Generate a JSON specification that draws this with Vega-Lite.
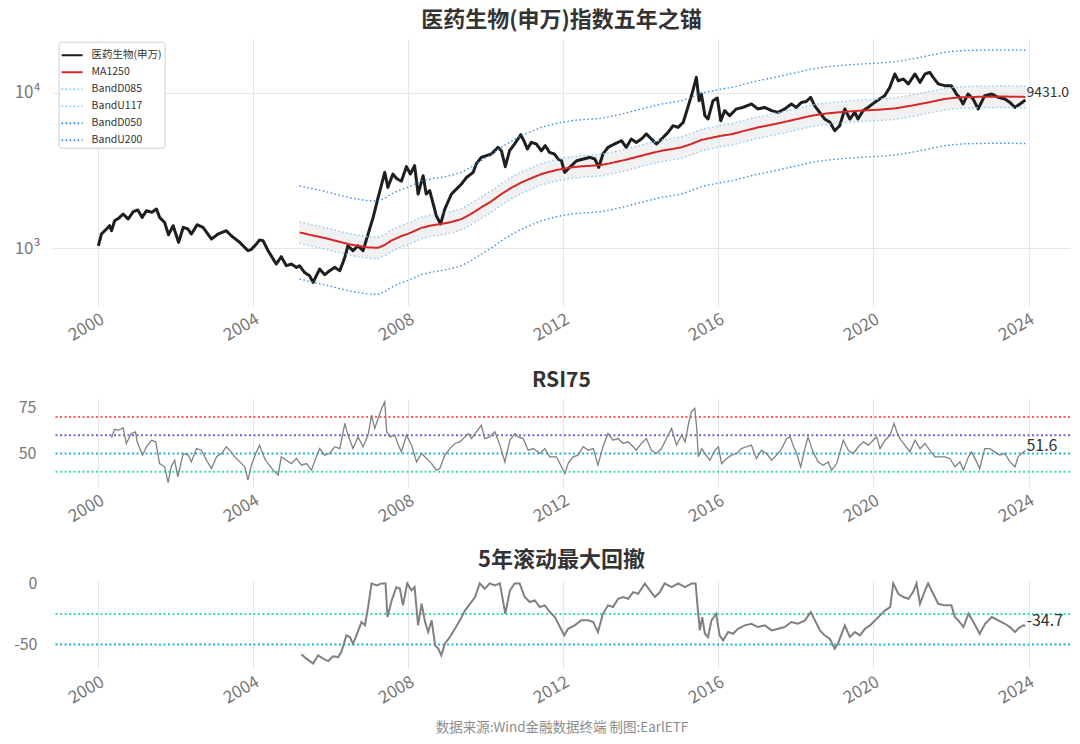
{
  "$schema": "https://vega.github.io/schema/vega-lite/v6.json",
  "autosize": {"type": "pad"},
  "padding": {"left": 13, "top": 9, "right": 11.4, "bottom": 5},
  "background": "white",
  "bounds": "flush",
  "spacing": 92.5,
  "config": {
    "font": "Noto Sans CJK SC",
    "view": {"stroke": null},
    "axis": {"domain": false, "ticks": false, "gridColor": "#e6e6e6", "gridWidth": 1, "labelColor": "#777777", "labelFontSize": 16, "labelPadding": 14, "title": null},
    "axisX": {"labelFontSize": 17, "labelPadding": 5, "labelAngle": -30},
    "title": {"fontSize": 22, "fontWeight": "bold", "color": "#333333", "anchor": "middle", "baseline": "bottom"}
  },
  "datasets": {
    "index": [
      {"year": 2000.00, "value": 1034}, {"year": 2000.08, "value": 1231}, {"year": 2000.21, "value": 1326}, {"year": 2000.29, "value": 1393}, {"year": 2000.34, "value": 1293},
      {"year": 2000.42, "value": 1500}, {"year": 2000.53, "value": 1560}, {"year": 2000.64, "value": 1657}, {"year": 2000.77, "value": 1538}, {"year": 2000.90, "value": 1715},
      {"year": 2001.02, "value": 1758}, {"year": 2001.13, "value": 1575}, {"year": 2001.24, "value": 1740}, {"year": 2001.38, "value": 1700}, {"year": 2001.50, "value": 1785},
      {"year": 2001.58, "value": 1575}, {"year": 2001.71, "value": 1462}, {"year": 2001.81, "value": 1218}, {"year": 2001.93, "value": 1393}, {"year": 2002.07, "value": 1087},
      {"year": 2002.19, "value": 1359}, {"year": 2002.31, "value": 1326}, {"year": 2002.40, "value": 1231}, {"year": 2002.55, "value": 1413}, {"year": 2002.70, "value": 1359},
      {"year": 2002.92, "value": 1143}, {"year": 2003.09, "value": 1231}, {"year": 2003.30, "value": 1293}, {"year": 2003.43, "value": 1200}, {"year": 2003.65, "value": 1087},
      {"year": 2003.86, "value": 961}, {"year": 2003.95, "value": 980}, {"year": 2004.06, "value": 1050}, {"year": 2004.16, "value": 1126}, {"year": 2004.25, "value": 1115},
      {"year": 2004.38, "value": 961}, {"year": 2004.59, "value": 788}, {"year": 2004.72, "value": 879}, {"year": 2004.85, "value": 769}, {"year": 2004.98, "value": 788},
      {"year": 2005.11, "value": 750}, {"year": 2005.19, "value": 769}, {"year": 2005.32, "value": 696}, {"year": 2005.45, "value": 662}, {"year": 2005.54, "value": 600},
      {"year": 2005.71, "value": 732}, {"year": 2005.84, "value": 673}, {"year": 2005.97, "value": 714}, {"year": 2006.10, "value": 750}, {"year": 2006.23, "value": 714},
      {"year": 2006.36, "value": 870}, {"year": 2006.44, "value": 1035}, {"year": 2006.57, "value": 961}, {"year": 2006.70, "value": 1035}, {"year": 2006.83, "value": 961},
      {"year": 2006.96, "value": 1231}, {"year": 2007.09, "value": 1575}, {"year": 2007.22, "value": 2121}, {"year": 2007.39, "value": 3074}, {"year": 2007.47, "value": 2461},
      {"year": 2007.60, "value": 3000}, {"year": 2007.70, "value": 2800}, {"year": 2007.82, "value": 2700}, {"year": 2007.95, "value": 3350}, {"year": 2008.05, "value": 3000},
      {"year": 2008.16, "value": 3397}, {"year": 2008.25, "value": 2229}, {"year": 2008.38, "value": 2926}, {"year": 2008.46, "value": 2229}, {"year": 2008.55, "value": 2343},
      {"year": 2008.64, "value": 1923}, {"year": 2008.72, "value": 1615}, {"year": 2008.83, "value": 1428}, {"year": 2008.94, "value": 1785}, {"year": 2009.11, "value": 2229},
      {"year": 2009.24, "value": 2400}, {"year": 2009.37, "value": 2588}, {"year": 2009.50, "value": 2854}, {"year": 2009.67, "value": 3074}, {"year": 2009.75, "value": 3484},
      {"year": 2009.88, "value": 3842}, {"year": 2010.01, "value": 3940}, {"year": 2010.14, "value": 4036}, {"year": 2010.31, "value": 4456}, {"year": 2010.40, "value": 4240},
      {"year": 2010.50, "value": 3346}, {"year": 2010.61, "value": 4240}, {"year": 2010.74, "value": 4690}, {"year": 2010.90, "value": 5383}, {"year": 2010.98, "value": 4920},
      {"year": 2011.07, "value": 4352}, {"year": 2011.17, "value": 4800}, {"year": 2011.30, "value": 4690}, {"year": 2011.43, "value": 4240}, {"year": 2011.53, "value": 4572},
      {"year": 2011.64, "value": 4140}, {"year": 2011.77, "value": 4036}, {"year": 2011.86, "value": 3750}, {"year": 2011.95, "value": 3656}, {"year": 2012.03, "value": 3074},
      {"year": 2012.16, "value": 3311}, {"year": 2012.34, "value": 3656}, {"year": 2012.51, "value": 3750}, {"year": 2012.68, "value": 3842}, {"year": 2012.81, "value": 3750},
      {"year": 2012.91, "value": 3311}, {"year": 2013.02, "value": 4036}, {"year": 2013.15, "value": 4456}, {"year": 2013.32, "value": 4690}, {"year": 2013.50, "value": 4920},
      {"year": 2013.62, "value": 4456}, {"year": 2013.75, "value": 5043}, {"year": 2013.88, "value": 4800}, {"year": 2014.01, "value": 5043}, {"year": 2014.14, "value": 5440},
      {"year": 2014.27, "value": 5043}, {"year": 2014.40, "value": 4690}, {"year": 2014.53, "value": 5043}, {"year": 2014.70, "value": 5570}, {"year": 2014.83, "value": 6152},
      {"year": 2014.96, "value": 6000}, {"year": 2015.09, "value": 6460}, {"year": 2015.21, "value": 8070}, {"year": 2015.34, "value": 10350}, {"year": 2015.43, "value": 12610},
      {"year": 2015.50, "value": 8913}, {"year": 2015.56, "value": 9850}, {"year": 2015.65, "value": 7137}, {"year": 2015.73, "value": 6792}, {"year": 2015.86, "value": 8913},
      {"year": 2015.97, "value": 9284}, {"year": 2016.06, "value": 6620}, {"year": 2016.16, "value": 7690}, {"year": 2016.29, "value": 7137}, {"year": 2016.46, "value": 7886},
      {"year": 2016.63, "value": 8070}, {"year": 2016.85, "value": 8490}, {"year": 2017.02, "value": 7886}, {"year": 2017.19, "value": 8070}, {"year": 2017.37, "value": 7690},
      {"year": 2017.54, "value": 7500}, {"year": 2017.71, "value": 7886}, {"year": 2017.88, "value": 8490}, {"year": 2018.01, "value": 8070}, {"year": 2018.14, "value": 8690},
      {"year": 2018.26, "value": 8800}, {"year": 2018.38, "value": 9367}, {"year": 2018.48, "value": 8280}, {"year": 2018.61, "value": 7500}, {"year": 2018.74, "value": 6792},
      {"year": 2018.87, "value": 6500}, {"year": 2019.00, "value": 5713}, {"year": 2019.13, "value": 6152}, {"year": 2019.26, "value": 7886}, {"year": 2019.39, "value": 6792},
      {"year": 2019.52, "value": 7500}, {"year": 2019.60, "value": 6792}, {"year": 2019.73, "value": 7690}, {"year": 2019.86, "value": 8070}, {"year": 2020.03, "value": 8690},
      {"year": 2020.16, "value": 9148}, {"year": 2020.29, "value": 9607}, {"year": 2020.42, "value": 10860}, {"year": 2020.55, "value": 13260}, {"year": 2020.64, "value": 11990},
      {"year": 2020.77, "value": 12300}, {"year": 2020.90, "value": 11430}, {"year": 2021.07, "value": 13260}, {"year": 2021.20, "value": 11700}, {"year": 2021.33, "value": 13260},
      {"year": 2021.45, "value": 13590}, {"year": 2021.54, "value": 12610}, {"year": 2021.67, "value": 11430}, {"year": 2021.84, "value": 11140}, {"year": 2022.01, "value": 11140},
      {"year": 2022.14, "value": 9850}, {"year": 2022.22, "value": 9367}, {"year": 2022.31, "value": 8490}, {"year": 2022.44, "value": 9850}, {"year": 2022.57, "value": 9148},
      {"year": 2022.70, "value": 7886}, {"year": 2022.87, "value": 9607}, {"year": 2023.05, "value": 9850}, {"year": 2023.22, "value": 9367}, {"year": 2023.39, "value": 9148},
      {"year": 2023.52, "value": 8690}, {"year": 2023.65, "value": 8070}, {"year": 2023.78, "value": 8490}, {"year": 2023.92, "value": 9013}
    ],
    "ma": [
      {"year": 2005.19, "MA1250": 1261, "BandD085": 1072, "BandU117": 1475, "BandD050": 631, "BandU200": 2522},
      {"year": 2005.50, "MA1250": 1210, "BandD085": 1029, "BandU117": 1416, "BandD050": 605, "BandU200": 2420},
      {"year": 2005.84, "MA1250": 1160, "BandD085": 986, "BandU117": 1357, "BandD050": 580, "BandU200": 2320},
      {"year": 2006.20, "MA1250": 1100, "BandD085": 935, "BandU117": 1287, "BandD050": 550, "BandU200": 2200},
      {"year": 2006.53, "MA1250": 1050, "BandD085": 893, "BandU117": 1229, "BandD050": 525, "BandU200": 2100},
      {"year": 2006.96, "MA1250": 1009, "BandD085": 858, "BandU117": 1181, "BandD050": 505, "BandU200": 2018},
      {"year": 2007.22, "MA1250": 1003, "BandD085": 853, "BandU117": 1174, "BandD050": 502, "BandU200": 2006},
      {"year": 2007.40, "MA1250": 1050, "BandD085": 893, "BandU117": 1229, "BandD050": 525, "BandU200": 2100},
      {"year": 2007.55, "MA1250": 1114, "BandD085": 947, "BandU117": 1303, "BandD050": 557, "BandU200": 2228},
      {"year": 2007.82, "MA1250": 1195, "BandD085": 1016, "BandU117": 1398, "BandD050": 598, "BandU200": 2390},
      {"year": 2007.98, "MA1250": 1231, "BandD085": 1046, "BandU117": 1440, "BandD050": 616, "BandU200": 2462},
      {"year": 2008.34, "MA1250": 1350, "BandD085": 1148, "BandU117": 1580, "BandD050": 675, "BandU200": 2700},
      {"year": 2008.60, "MA1250": 1400, "BandD085": 1190, "BandU117": 1638, "BandD050": 700, "BandU200": 2800},
      {"year": 2008.85, "MA1250": 1429, "BandD085": 1215, "BandU117": 1672, "BandD050": 715, "BandU200": 2858},
      {"year": 2009.10, "MA1250": 1470, "BandD085": 1250, "BandU117": 1720, "BandD050": 735, "BandU200": 2940},
      {"year": 2009.37, "MA1250": 1538, "BandD085": 1307, "BandU117": 1799, "BandD050": 769, "BandU200": 3076},
      {"year": 2009.60, "MA1250": 1650, "BandD085": 1403, "BandU117": 1931, "BandD050": 825, "BandU200": 3300},
      {"year": 2009.88, "MA1250": 1828, "BandD085": 1554, "BandU117": 2139, "BandD050": 914, "BandU200": 3656},
      {"year": 2010.15, "MA1250": 2010, "BandD085": 1709, "BandU117": 2352, "BandD050": 1005, "BandU200": 4020},
      {"year": 2010.40, "MA1250": 2229, "BandD085": 1895, "BandU117": 2608, "BandD050": 1115, "BandU200": 4458},
      {"year": 2010.65, "MA1250": 2440, "BandD085": 2074, "BandU117": 2855, "BandD050": 1220, "BandU200": 4880},
      {"year": 2010.92, "MA1250": 2649, "BandD085": 2252, "BandU117": 3099, "BandD050": 1325, "BandU200": 5298},
      {"year": 2011.20, "MA1250": 2840, "BandD085": 2414, "BandU117": 3323, "BandD050": 1420, "BandU200": 5680},
      {"year": 2011.43, "MA1250": 3000, "BandD085": 2550, "BandU117": 3510, "BandD050": 1500, "BandU200": 6000},
      {"year": 2011.70, "MA1250": 3130, "BandD085": 2661, "BandU117": 3662, "BandD050": 1565, "BandU200": 6260},
      {"year": 2011.95, "MA1250": 3234, "BandD085": 2749, "BandU117": 3784, "BandD050": 1617, "BandU200": 6468},
      {"year": 2012.20, "MA1250": 3310, "BandD085": 2814, "BandU117": 3873, "BandD050": 1655, "BandU200": 6620},
      {"year": 2012.46, "MA1250": 3362, "BandD085": 2858, "BandU117": 3934, "BandD050": 1681, "BandU200": 6724},
      {"year": 2012.70, "MA1250": 3390, "BandD085": 2882, "BandU117": 3966, "BandD050": 1695, "BandU200": 6780},
      {"year": 2012.97, "MA1250": 3430, "BandD085": 2916, "BandU117": 4013, "BandD050": 1715, "BandU200": 6860},
      {"year": 2013.25, "MA1250": 3540, "BandD085": 3009, "BandU117": 4142, "BandD050": 1770, "BandU200": 7080},
      {"year": 2013.50, "MA1250": 3656, "BandD085": 3108, "BandU117": 4278, "BandD050": 1828, "BandU200": 7312},
      {"year": 2013.75, "MA1250": 3790, "BandD085": 3222, "BandU117": 4434, "BandD050": 1895, "BandU200": 7580},
      {"year": 2014.01, "MA1250": 3940, "BandD085": 3349, "BandU117": 4610, "BandD050": 1970, "BandU200": 7880},
      {"year": 2014.27, "MA1250": 4090, "BandD085": 3477, "BandU117": 4785, "BandD050": 2045, "BandU200": 8180},
      {"year": 2014.53, "MA1250": 4240, "BandD085": 3604, "BandU117": 4961, "BandD050": 2120, "BandU200": 8480},
      {"year": 2014.80, "MA1250": 4350, "BandD085": 3698, "BandU117": 5090, "BandD050": 2175, "BandU200": 8700},
      {"year": 2015.04, "MA1250": 4456, "BandD085": 3788, "BandU117": 5214, "BandD050": 2228, "BandU200": 8912},
      {"year": 2015.30, "MA1250": 4690, "BandD085": 3987, "BandU117": 5487, "BandD050": 2345, "BandU200": 9380},
      {"year": 2015.56, "MA1250": 4980, "BandD085": 4233, "BandU117": 5827, "BandD050": 2490, "BandU200": 9960},
      {"year": 2015.82, "MA1250": 5140, "BandD085": 4369, "BandU117": 6014, "BandD050": 2570, "BandU200": 10280},
      {"year": 2016.08, "MA1250": 5302, "BandD085": 4507, "BandU117": 6203, "BandD050": 2651, "BandU200": 10604},
      {"year": 2016.34, "MA1250": 5420, "BandD085": 4607, "BandU117": 6341, "BandD050": 2710, "BandU200": 10840},
      {"year": 2016.68, "MA1250": 5713, "BandD085": 4856, "BandU117": 6684, "BandD050": 2857, "BandU200": 11426},
      {"year": 2017.00, "MA1250": 5980, "BandD085": 5083, "BandU117": 6997, "BandD050": 2990, "BandU200": 11960},
      {"year": 2017.54, "MA1250": 6368, "BandD085": 5413, "BandU117": 7451, "BandD050": 3184, "BandU200": 12736},
      {"year": 2018.00, "MA1250": 6760, "BandD085": 5746, "BandU117": 7909, "BandD050": 3380, "BandU200": 13520},
      {"year": 2018.40, "MA1250": 7137, "BandD085": 6066, "BandU117": 8350, "BandD050": 3569, "BandU200": 14274},
      {"year": 2018.80, "MA1250": 7380, "BandD085": 6273, "BandU117": 8635, "BandD050": 3690, "BandU200": 14760},
      {"year": 2019.26, "MA1250": 7567, "BandD085": 6432, "BandU117": 8853, "BandD050": 3784, "BandU200": 15134},
      {"year": 2019.70, "MA1250": 7700, "BandD085": 6545, "BandU117": 9009, "BandD050": 3850, "BandU200": 15400},
      {"year": 2020.12, "MA1250": 7797, "BandD085": 6627, "BandU117": 9122, "BandD050": 3899, "BandU200": 15594},
      {"year": 2020.55, "MA1250": 7950, "BandD085": 6758, "BandU117": 9302, "BandD050": 3975, "BandU200": 15900},
      {"year": 2020.98, "MA1250": 8280, "BandD085": 7038, "BandU117": 9688, "BandD050": 4140, "BandU200": 16560},
      {"year": 2021.41, "MA1250": 8690, "BandD085": 7387, "BandU117": 10167, "BandD050": 4345, "BandU200": 17380},
      {"year": 2021.84, "MA1250": 9148, "BandD085": 7776, "BandU117": 10703, "BandD050": 4574, "BandU200": 18296},
      {"year": 2022.10, "MA1250": 9300, "BandD085": 7905, "BandU117": 10881, "BandD050": 4650, "BandU200": 18600},
      {"year": 2022.36, "MA1250": 9400, "BandD085": 7990, "BandU117": 10998, "BandD050": 4700, "BandU200": 18800},
      {"year": 2022.87, "MA1250": 9460, "BandD085": 8041, "BandU117": 11068, "BandD050": 4730, "BandU200": 18920},
      {"year": 2023.39, "MA1250": 9480, "BandD085": 8058, "BandU117": 11092, "BandD050": 4740, "BandU200": 18960},
      {"year": 2023.92, "MA1250": 9431, "BandD085": 8016, "BandU117": 11034, "BandD050": 4716, "BandU200": 18862}
    ],
    "rsi": [
      {"year": 2000.34, "rsi": 58.6}, {"year": 2000.42, "rsi": 63.3}, {"year": 2000.53, "rsi": 62.8}, {"year": 2000.64, "rsi": 64.1}, {"year": 2000.72, "rsi": 55.5},
      {"year": 2000.85, "rsi": 61.0}, {"year": 2000.96, "rsi": 61.9}, {"year": 2001.00, "rsi": 56.4}, {"year": 2001.14, "rsi": 49.1}, {"year": 2001.24, "rsi": 53.7},
      {"year": 2001.37, "rsi": 57.3}, {"year": 2001.48, "rsi": 56.4}, {"year": 2001.58, "rsi": 44.5}, {"year": 2001.71, "rsi": 42.7}, {"year": 2001.80, "rsi": 34.1},
      {"year": 2001.88, "rsi": 42.7}, {"year": 2001.97, "rsi": 46.3}, {"year": 2002.05, "rsi": 37.2}, {"year": 2002.19, "rsi": 50.0}, {"year": 2002.32, "rsi": 49.1},
      {"year": 2002.40, "rsi": 45.4}, {"year": 2002.53, "rsi": 52.7}, {"year": 2002.66, "rsi": 51.8}, {"year": 2002.79, "rsi": 46.3}, {"year": 2002.92, "rsi": 41.8},
      {"year": 2003.05, "rsi": 48.2}, {"year": 2003.18, "rsi": 50.0}, {"year": 2003.30, "rsi": 53.7}, {"year": 2003.39, "rsi": 51.8}, {"year": 2003.52, "rsi": 48.2},
      {"year": 2003.65, "rsi": 45.4}, {"year": 2003.78, "rsi": 42.7}, {"year": 2003.86, "rsi": 35.4}, {"year": 2003.95, "rsi": 43.6}, {"year": 2004.06, "rsi": 50.0},
      {"year": 2004.16, "rsi": 54.6}, {"year": 2004.29, "rsi": 47.3}, {"year": 2004.38, "rsi": 44.5}, {"year": 2004.51, "rsi": 40.9}, {"year": 2004.64, "rsi": 38.1},
      {"year": 2004.72, "rsi": 48.2}, {"year": 2004.85, "rsi": 46.3}, {"year": 2004.98, "rsi": 44.5}, {"year": 2005.11, "rsi": 47.3}, {"year": 2005.24, "rsi": 43.6},
      {"year": 2005.37, "rsi": 44.5}, {"year": 2005.50, "rsi": 40.9}, {"year": 2005.59, "rsi": 46.3}, {"year": 2005.71, "rsi": 52.7}, {"year": 2005.84, "rsi": 49.1},
      {"year": 2005.97, "rsi": 50.0}, {"year": 2006.10, "rsi": 53.7}, {"year": 2006.23, "rsi": 52.7}, {"year": 2006.36, "rsi": 66.5}, {"year": 2006.44, "rsi": 60.1},
      {"year": 2006.57, "rsi": 52.7}, {"year": 2006.70, "rsi": 59.1}, {"year": 2006.83, "rsi": 53.7}, {"year": 2006.96, "rsi": 60.1}, {"year": 2007.05, "rsi": 71.0},
      {"year": 2007.13, "rsi": 63.7}, {"year": 2007.22, "rsi": 69.2}, {"year": 2007.31, "rsi": 74.7}, {"year": 2007.39, "rsi": 78.3}, {"year": 2007.44, "rsi": 61.9},
      {"year": 2007.52, "rsi": 59.1}, {"year": 2007.65, "rsi": 60.1}, {"year": 2007.74, "rsi": 54.6}, {"year": 2007.82, "rsi": 50.9}, {"year": 2007.95, "rsi": 60.1},
      {"year": 2008.08, "rsi": 54.6}, {"year": 2008.21, "rsi": 45.4}, {"year": 2008.34, "rsi": 50.0}, {"year": 2008.47, "rsi": 47.3}, {"year": 2008.60, "rsi": 44.5},
      {"year": 2008.72, "rsi": 40.9}, {"year": 2008.81, "rsi": 41.8}, {"year": 2008.94, "rsi": 49.1}, {"year": 2009.07, "rsi": 52.7}, {"year": 2009.20, "rsi": 55.5},
      {"year": 2009.33, "rsi": 56.4}, {"year": 2009.46, "rsi": 59.1}, {"year": 2009.55, "rsi": 61.0}, {"year": 2009.63, "rsi": 58.2}, {"year": 2009.75, "rsi": 61.9},
      {"year": 2009.88, "rsi": 65.5}, {"year": 2009.97, "rsi": 58.2}, {"year": 2010.10, "rsi": 59.1}, {"year": 2010.23, "rsi": 61.9}, {"year": 2010.36, "rsi": 54.6},
      {"year": 2010.49, "rsi": 45.4}, {"year": 2010.62, "rsi": 57.3}, {"year": 2010.75, "rsi": 61.0}, {"year": 2010.83, "rsi": 59.1}, {"year": 2010.96, "rsi": 58.2},
      {"year": 2011.09, "rsi": 51.8}, {"year": 2011.22, "rsi": 52.7}, {"year": 2011.40, "rsi": 50.0}, {"year": 2011.52, "rsi": 52.7}, {"year": 2011.65, "rsi": 48.2},
      {"year": 2011.82, "rsi": 48.2}, {"year": 2011.95, "rsi": 42.7}, {"year": 2012.04, "rsi": 39.0}, {"year": 2012.12, "rsi": 44.5}, {"year": 2012.25, "rsi": 48.2},
      {"year": 2012.38, "rsi": 49.1}, {"year": 2012.51, "rsi": 53.7}, {"year": 2012.64, "rsi": 51.8}, {"year": 2012.77, "rsi": 52.7}, {"year": 2012.89, "rsi": 43.6},
      {"year": 2013.02, "rsi": 53.7}, {"year": 2013.15, "rsi": 61.0}, {"year": 2013.28, "rsi": 57.3}, {"year": 2013.41, "rsi": 58.2}, {"year": 2013.54, "rsi": 55.5},
      {"year": 2013.67, "rsi": 56.4}, {"year": 2013.80, "rsi": 53.7}, {"year": 2013.88, "rsi": 51.8}, {"year": 2014.01, "rsi": 55.5}, {"year": 2014.14, "rsi": 58.2},
      {"year": 2014.27, "rsi": 51.8}, {"year": 2014.40, "rsi": 50.0}, {"year": 2014.53, "rsi": 52.7}, {"year": 2014.66, "rsi": 58.2}, {"year": 2014.79, "rsi": 63.7},
      {"year": 2014.92, "rsi": 54.6}, {"year": 2015.05, "rsi": 60.1}, {"year": 2015.14, "rsi": 56.4}, {"year": 2015.22, "rsi": 65.5}, {"year": 2015.30, "rsi": 72.9},
      {"year": 2015.39, "rsi": 74.7}, {"year": 2015.44, "rsi": 63.7}, {"year": 2015.48, "rsi": 48.2}, {"year": 2015.57, "rsi": 52.7}, {"year": 2015.65, "rsi": 50.0},
      {"year": 2015.78, "rsi": 46.3}, {"year": 2015.91, "rsi": 51.8}, {"year": 2016.00, "rsi": 53.7}, {"year": 2016.08, "rsi": 44.5}, {"year": 2016.21, "rsi": 47.3},
      {"year": 2016.34, "rsi": 49.1}, {"year": 2016.47, "rsi": 50.0}, {"year": 2016.59, "rsi": 52.7}, {"year": 2016.72, "rsi": 53.7}, {"year": 2016.85, "rsi": 54.6},
      {"year": 2016.98, "rsi": 47.3}, {"year": 2017.11, "rsi": 51.8}, {"year": 2017.24, "rsi": 50.0}, {"year": 2017.37, "rsi": 46.3}, {"year": 2017.50, "rsi": 49.1},
      {"year": 2017.63, "rsi": 52.7}, {"year": 2017.76, "rsi": 58.2}, {"year": 2017.85, "rsi": 59.1}, {"year": 2017.94, "rsi": 53.7}, {"year": 2018.02, "rsi": 50.0},
      {"year": 2018.12, "rsi": 42.7}, {"year": 2018.23, "rsi": 52.7}, {"year": 2018.31, "rsi": 59.1}, {"year": 2018.44, "rsi": 50.9}, {"year": 2018.57, "rsi": 45.4},
      {"year": 2018.70, "rsi": 43.6}, {"year": 2018.83, "rsi": 45.4}, {"year": 2018.92, "rsi": 40.9}, {"year": 2019.05, "rsi": 44.5}, {"year": 2019.22, "rsi": 57.3},
      {"year": 2019.35, "rsi": 51.8}, {"year": 2019.48, "rsi": 50.0}, {"year": 2019.61, "rsi": 53.7}, {"year": 2019.74, "rsi": 56.4}, {"year": 2019.87, "rsi": 54.6},
      {"year": 2019.99, "rsi": 57.3}, {"year": 2020.08, "rsi": 59.1}, {"year": 2020.17, "rsi": 52.7}, {"year": 2020.30, "rsi": 57.3}, {"year": 2020.43, "rsi": 60.1},
      {"year": 2020.53, "rsi": 66.5}, {"year": 2020.60, "rsi": 61.9}, {"year": 2020.68, "rsi": 58.2}, {"year": 2020.81, "rsi": 54.6}, {"year": 2020.94, "rsi": 50.9},
      {"year": 2021.07, "rsi": 57.3}, {"year": 2021.20, "rsi": 52.7}, {"year": 2021.33, "rsi": 55.5}, {"year": 2021.45, "rsi": 51.8}, {"year": 2021.58, "rsi": 48.2},
      {"year": 2021.71, "rsi": 48.2}, {"year": 2021.84, "rsi": 48.2}, {"year": 2021.97, "rsi": 47.3}, {"year": 2022.10, "rsi": 42.7}, {"year": 2022.23, "rsi": 45.4},
      {"year": 2022.32, "rsi": 40.9}, {"year": 2022.45, "rsi": 48.2}, {"year": 2022.53, "rsi": 50.9}, {"year": 2022.66, "rsi": 45.4}, {"year": 2022.74, "rsi": 41.8},
      {"year": 2022.87, "rsi": 52.7}, {"year": 2023.00, "rsi": 52.7}, {"year": 2023.13, "rsi": 50.9}, {"year": 2023.26, "rsi": 49.1}, {"year": 2023.39, "rsi": 50.0},
      {"year": 2023.52, "rsi": 45.4}, {"year": 2023.65, "rsi": 42.7}, {"year": 2023.73, "rsi": 48.2}, {"year": 2023.82, "rsi": 50.0}, {"year": 2023.92, "rsi": 51.6}
    ],
    "dd": [
      {"year": 2005.24, "dd": -58.2}, {"year": 2005.37, "dd": -61.7}, {"year": 2005.54, "dd": -65.8}, {"year": 2005.67, "dd": -59.0}, {"year": 2005.80, "dd": -61.7},
      {"year": 2005.93, "dd": -63.7}, {"year": 2006.06, "dd": -59.8}, {"year": 2006.19, "dd": -60.4}, {"year": 2006.27, "dd": -56.3}, {"year": 2006.40, "dd": -42.6},
      {"year": 2006.49, "dd": -44.0}, {"year": 2006.57, "dd": -49.5}, {"year": 2006.66, "dd": -42.6}, {"year": 2006.79, "dd": -31.7}, {"year": 2006.88, "dd": -34.4},
      {"year": 2006.96, "dd": -19.4}, {"year": 2007.05, "dd": 0}, {"year": 2007.18, "dd": -1.6}, {"year": 2007.31, "dd": 0}, {"year": 2007.41, "dd": 0},
      {"year": 2007.46, "dd": -27.6}, {"year": 2007.57, "dd": -13.9}, {"year": 2007.69, "dd": -3.0}, {"year": 2007.78, "dd": -4.4}, {"year": 2007.86, "dd": -18.0},
      {"year": 2007.97, "dd": 0}, {"year": 2008.08, "dd": -5.7}, {"year": 2008.16, "dd": -3.0}, {"year": 2008.25, "dd": -34.4}, {"year": 2008.34, "dd": -16.7},
      {"year": 2008.43, "dd": -31.7}, {"year": 2008.51, "dd": -39.9}, {"year": 2008.60, "dd": -30.3}, {"year": 2008.69, "dd": -50.8}, {"year": 2008.77, "dd": -53.5},
      {"year": 2008.85, "dd": -59.0}, {"year": 2008.94, "dd": -49.5}, {"year": 2009.07, "dd": -44.0}, {"year": 2009.20, "dd": -37.2}, {"year": 2009.33, "dd": -30.3},
      {"year": 2009.46, "dd": -22.1}, {"year": 2009.59, "dd": -16.7}, {"year": 2009.72, "dd": -11.2}, {"year": 2009.84, "dd": 0}, {"year": 2009.97, "dd": -4.4},
      {"year": 2010.10, "dd": 0}, {"year": 2010.23, "dd": -1.6}, {"year": 2010.36, "dd": 0}, {"year": 2010.50, "dd": -24.9}, {"year": 2010.62, "dd": -5.7},
      {"year": 2010.74, "dd": 0}, {"year": 2010.87, "dd": 0}, {"year": 2011.00, "dd": -11.2}, {"year": 2011.13, "dd": -15.3}, {"year": 2011.26, "dd": -13.9},
      {"year": 2011.39, "dd": -19.4}, {"year": 2011.52, "dd": -18.0}, {"year": 2011.65, "dd": -23.5}, {"year": 2011.78, "dd": -27.6}, {"year": 2011.91, "dd": -35.8},
      {"year": 2012.02, "dd": -42.6}, {"year": 2012.12, "dd": -37.2}, {"year": 2012.29, "dd": -34.4}, {"year": 2012.46, "dd": -30.3}, {"year": 2012.64, "dd": -30.3},
      {"year": 2012.77, "dd": -31.7}, {"year": 2012.89, "dd": -39.9}, {"year": 2013.02, "dd": -24.9}, {"year": 2013.15, "dd": -18.0}, {"year": 2013.28, "dd": -19.4},
      {"year": 2013.41, "dd": -12.6}, {"year": 2013.54, "dd": -11.2}, {"year": 2013.67, "dd": -12.6}, {"year": 2013.80, "dd": -7.1}, {"year": 2013.93, "dd": -8.5},
      {"year": 2014.10, "dd": 0}, {"year": 2014.23, "dd": -5.7}, {"year": 2014.36, "dd": -11.2}, {"year": 2014.49, "dd": -7.1}, {"year": 2014.61, "dd": 0},
      {"year": 2014.79, "dd": -3.0}, {"year": 2014.96, "dd": 0}, {"year": 2015.14, "dd": -3.0}, {"year": 2015.31, "dd": 0}, {"year": 2015.41, "dd": 0},
      {"year": 2015.47, "dd": -22.1}, {"year": 2015.52, "dd": -38.5}, {"year": 2015.58, "dd": -27.6}, {"year": 2015.65, "dd": -41.3}, {"year": 2015.73, "dd": -44.0},
      {"year": 2015.82, "dd": -30.3}, {"year": 2015.94, "dd": -24.9}, {"year": 2016.03, "dd": -42.6}, {"year": 2016.12, "dd": -46.7}, {"year": 2016.25, "dd": -39.9},
      {"year": 2016.38, "dd": -41.3}, {"year": 2016.50, "dd": -37.2}, {"year": 2016.68, "dd": -34.4}, {"year": 2016.85, "dd": -33.1}, {"year": 2017.02, "dd": -35.8},
      {"year": 2017.20, "dd": -34.4}, {"year": 2017.37, "dd": -38.5}, {"year": 2017.54, "dd": -37.2}, {"year": 2017.71, "dd": -35.8}, {"year": 2017.88, "dd": -31.7},
      {"year": 2018.05, "dd": -33.1}, {"year": 2018.23, "dd": -30.3}, {"year": 2018.38, "dd": -23.5}, {"year": 2018.49, "dd": -30.3}, {"year": 2018.62, "dd": -38.5},
      {"year": 2018.74, "dd": -42.6}, {"year": 2018.87, "dd": -45.4}, {"year": 2019.00, "dd": -53.5}, {"year": 2019.08, "dd": -49.5}, {"year": 2019.26, "dd": -34.4},
      {"year": 2019.39, "dd": -44.0}, {"year": 2019.52, "dd": -39.9}, {"year": 2019.65, "dd": -42.6}, {"year": 2019.78, "dd": -37.2}, {"year": 2019.91, "dd": -34.4},
      {"year": 2020.04, "dd": -30.3}, {"year": 2020.17, "dd": -26.2}, {"year": 2020.30, "dd": -22.1}, {"year": 2020.43, "dd": -19.4}, {"year": 2020.51, "dd": 0},
      {"year": 2020.64, "dd": -8.5}, {"year": 2020.77, "dd": -11.2}, {"year": 2020.90, "dd": -12.6}, {"year": 2021.02, "dd": -7.1}, {"year": 2021.11, "dd": 0},
      {"year": 2021.20, "dd": -16.7}, {"year": 2021.33, "dd": -5.7}, {"year": 2021.41, "dd": 0}, {"year": 2021.54, "dd": -8.5}, {"year": 2021.67, "dd": -16.7},
      {"year": 2021.84, "dd": -18.0}, {"year": 2022.01, "dd": -18.0}, {"year": 2022.10, "dd": -27.6}, {"year": 2022.19, "dd": -30.3}, {"year": 2022.32, "dd": -35.8},
      {"year": 2022.45, "dd": -24.9}, {"year": 2022.58, "dd": -31.7}, {"year": 2022.74, "dd": -41.3}, {"year": 2022.88, "dd": -33.1}, {"year": 2023.05, "dd": -27.6},
      {"year": 2023.22, "dd": -30.3}, {"year": 2023.39, "dd": -33.1}, {"year": 2023.52, "dd": -35.8}, {"year": 2023.65, "dd": -39.9}, {"year": 2023.73, "dd": -37.2},
      {"year": 2023.86, "dd": -34.4}, {"year": 2023.92, "dd": -34.7}
    ]
  },
  "vconcat": [
    {
      "width": 1017,
      "height": 266.7,
      "title": {"text": "医药生物(申万)指数五年之锚", "offset": 7},
      "encoding": {
        "x": {"field": "year", "type": "quantitative", "scale": {"domain": [1998.83, 2025.07], "nice": false, "zero": false},
              "axis": {"values": [2000, 2004, 2008, 2012, 2016, 2020, 2024], "format": "d"}}
      },
      "layer": [
        {
          "data": {"name": "ma"},
          "mark": {"type": "area", "color": "#e9e9e9", "opacity": 0.65},
          "encoding": {
            "y": {"field": "BandD085", "type": "quantitative", "scale": {"type": "log", "domain": [424.6, 22284], "nice": false},
                  "axis": {"values": [1000, 10000], "labelExpr": "datum.value == 1000 ? '10³' : '10⁴'", "labelFontSize": 17, "labelPadding": 13}},
            "y2": {"field": "BandU117"}
          }
        },
        {
          "data": {"name": "index"},
          "mark": {"type": "line", "strokeWidth": 3, "strokeJoin": "round"},
          "encoding": {
            "y": {"field": "value", "type": "quantitative"},
            "color": {"datum": "医药生物(申万)", "type": "nominal",
              "scale": {"domain": ["医药生物(申万)", "MA1250", "BandD085", "BandU117", "BandD050", "BandU200"],
                        "range": ["#1e1e1e", "#d62728", "#8ecbf5", "#8ecbf5", "#3a8ee6", "#3a8ee6"]},
              "legend": {"orient": "none", "legendX": 5.6, "legendY": 2.7, "title": null, "labelFontSize": 10.5, "labelColor": "#333333",
                         "symbolType": "stroke", "symbolSize": 440, "symbolStrokeWidth": 2, "rowPadding": -5, "padding": 2,
                         "strokeColor": "#cccccc", "fillColor": "white", "cornerRadius": 3, "labelOffset": 8}},
            "strokeDash": {"datum": "医药生物(申万)", "type": "nominal",
              "scale": {"domain": ["医药生物(申万)", "MA1250", "BandD085", "BandU117", "BandD050", "BandU200"],
                        "range": [[1, 0], [1, 0], [1.5, 2.5], [1.5, 2.5], [1.5, 2.5], [1.5, 2.5]]},
              "legend": {"orient": "none", "legendX": 5.6, "legendY": 2.7, "title": null}}
          }
        },
        {
          "data": {"name": "ma"},
          "transform": [{"fold": ["MA1250", "BandD085", "BandU117", "BandD050", "BandU200"], "as": ["series", "val"]}],
          "mark": {"type": "line"},
          "encoding": {
            "y": {"field": "val", "type": "quantitative"},
            "color": {"field": "series", "type": "nominal",
              "legend": {"orient": "none", "legendX": 5.6, "legendY": 2.7, "title": null, "labelFontSize": 10.5, "labelColor": "#333333",
                         "symbolType": "stroke", "symbolSize": 440, "symbolStrokeWidth": 2, "rowPadding": -5, "padding": 2,
                         "strokeColor": "#cccccc", "fillColor": "white", "cornerRadius": 3, "labelOffset": 8}},
            "strokeDash": {"field": "series", "type": "nominal", "legend": {"orient": "none", "legendX": 5.6, "legendY": 2.7, "title": null}},
            "strokeWidth": {"condition": {"test": "datum.series === 'MA1250'", "value": 2}, "value": 1.4}
          }
        },
        {
          "data": {"values": [{"year": 2023.92, "value": 9431.0, "label": "9431.0"}]},
          "mark": {"type": "text", "align": "left", "baseline": "alphabetic", "dx": 1, "fontSize": 14, "color": "#333333"},
          "encoding": {
            "y": {"field": "value", "type": "quantitative"},
            "text": {"field": "label", "type": "nominal"}
          }
        }
      ]
    },
    {
      "width": 1017,
      "height": 88.4,
      "title": {"text": "RSI75", "offset": 7, "fontSize": 21},
      "layer": [
        {
          "data": {"values": [{}]},
          "mark": {"type": "rule", "color": "#ff5c5c", "strokeDash": [2, 2.5], "strokeWidth": 2},
          "encoding": {"y": {"datum": 70, "type": "quantitative", "scale": {"domain": [31.7, 80.15], "nice": false, "zero": false},
                             "axis": {"values": [50, 75], "labelPadding": 17}}}
        },
        {
          "data": {"values": [{}]},
          "mark": {"type": "rule", "color": "#6b63d0", "strokeDash": [2, 2.5], "strokeWidth": 2},
          "encoding": {"y": {"datum": 60, "type": "quantitative"}}
        },
        {
          "data": {"values": [{}]},
          "mark": {"type": "rule", "color": "#1fb6d6", "strokeDash": [2, 2.5], "strokeWidth": 2},
          "encoding": {"y": {"datum": 50, "type": "quantitative"}}
        },
        {
          "data": {"values": [{}]},
          "mark": {"type": "rule", "color": "#36e3a6", "strokeDash": [2, 2.5], "strokeWidth": 2},
          "encoding": {"y": {"datum": 40, "type": "quantitative"}}
        },
        {
          "data": {"name": "rsi"},
          "mark": {"type": "line", "color": "#808080", "strokeWidth": 1.3},
          "encoding": {
            "x": {"field": "year", "type": "quantitative", "scale": {"domain": [1998.83, 2025.07], "nice": false, "zero": false},
                  "axis": {"values": [2000, 2004, 2008, 2012, 2016, 2020, 2024], "format": "d"}},
            "y": {"field": "rsi", "type": "quantitative"}
          }
        },
        {
          "data": {"values": [{"year": 2023.92, "rsi": 51.6, "label": "51.6"}]},
          "mark": {"type": "text", "align": "left", "baseline": "alphabetic", "dx": 1, "fontSize": 16, "color": "#333333"},
          "encoding": {
            "x": {"field": "year", "type": "quantitative"},
            "y": {"field": "rsi", "type": "quantitative"},
            "text": {"field": "label", "type": "nominal"}
          }
        }
      ]
    },
    {
      "width": 1017,
      "height": 88.4,
      "title": {"text": "5年滚动最大回撤", "offset": 3},
      "layer": [
        {
          "data": {"values": [{}]},
          "mark": {"type": "rule", "color": "#36e3a6", "strokeDash": [2, 2.5], "strokeWidth": 2},
          "encoding": {"y": {"datum": -25, "type": "quantitative", "scale": {"domain": [-69.7, 2.8], "nice": false, "zero": false},
                             "axis": {"values": [-50, 0], "labelExpr": "'' + datum.value", "labelPadding": 16}}}
        },
        {
          "data": {"values": [{}]},
          "mark": {"type": "rule", "color": "#1fb6d6", "strokeDash": [2, 2.5], "strokeWidth": 2},
          "encoding": {"y": {"datum": -50, "type": "quantitative"}}
        },
        {
          "data": {"name": "dd"},
          "mark": {"type": "line", "color": "#808080", "strokeWidth": 2},
          "encoding": {
            "x": {"field": "year", "type": "quantitative", "scale": {"domain": [1998.83, 2025.07], "nice": false, "zero": false},
                  "axis": {"values": [2000, 2004, 2008, 2012, 2016, 2020, 2024], "format": "d",
                           "title": "数据来源:Wind金融数据终端  制图:EarlETF", "titleFontSize": 13.5, "titleColor": "#8c8c8c", "titleFontWeight": "normal",
                           "titleY": 59, "titleBaseline": "middle"}},
            "y": {"field": "dd", "type": "quantitative"}
          }
        },
        {
          "data": {"values": [{"year": 2023.92, "dd": -34.7, "label": "-34.7"}]},
          "mark": {"type": "text", "align": "left", "baseline": "alphabetic", "dx": 1, "fontSize": 16, "color": "#333333"},
          "encoding": {
            "x": {"field": "year", "type": "quantitative"},
            "y": {"field": "dd", "type": "quantitative"},
            "text": {"field": "label", "type": "nominal"}
          }
        }
      ]
    }
  ]
}
